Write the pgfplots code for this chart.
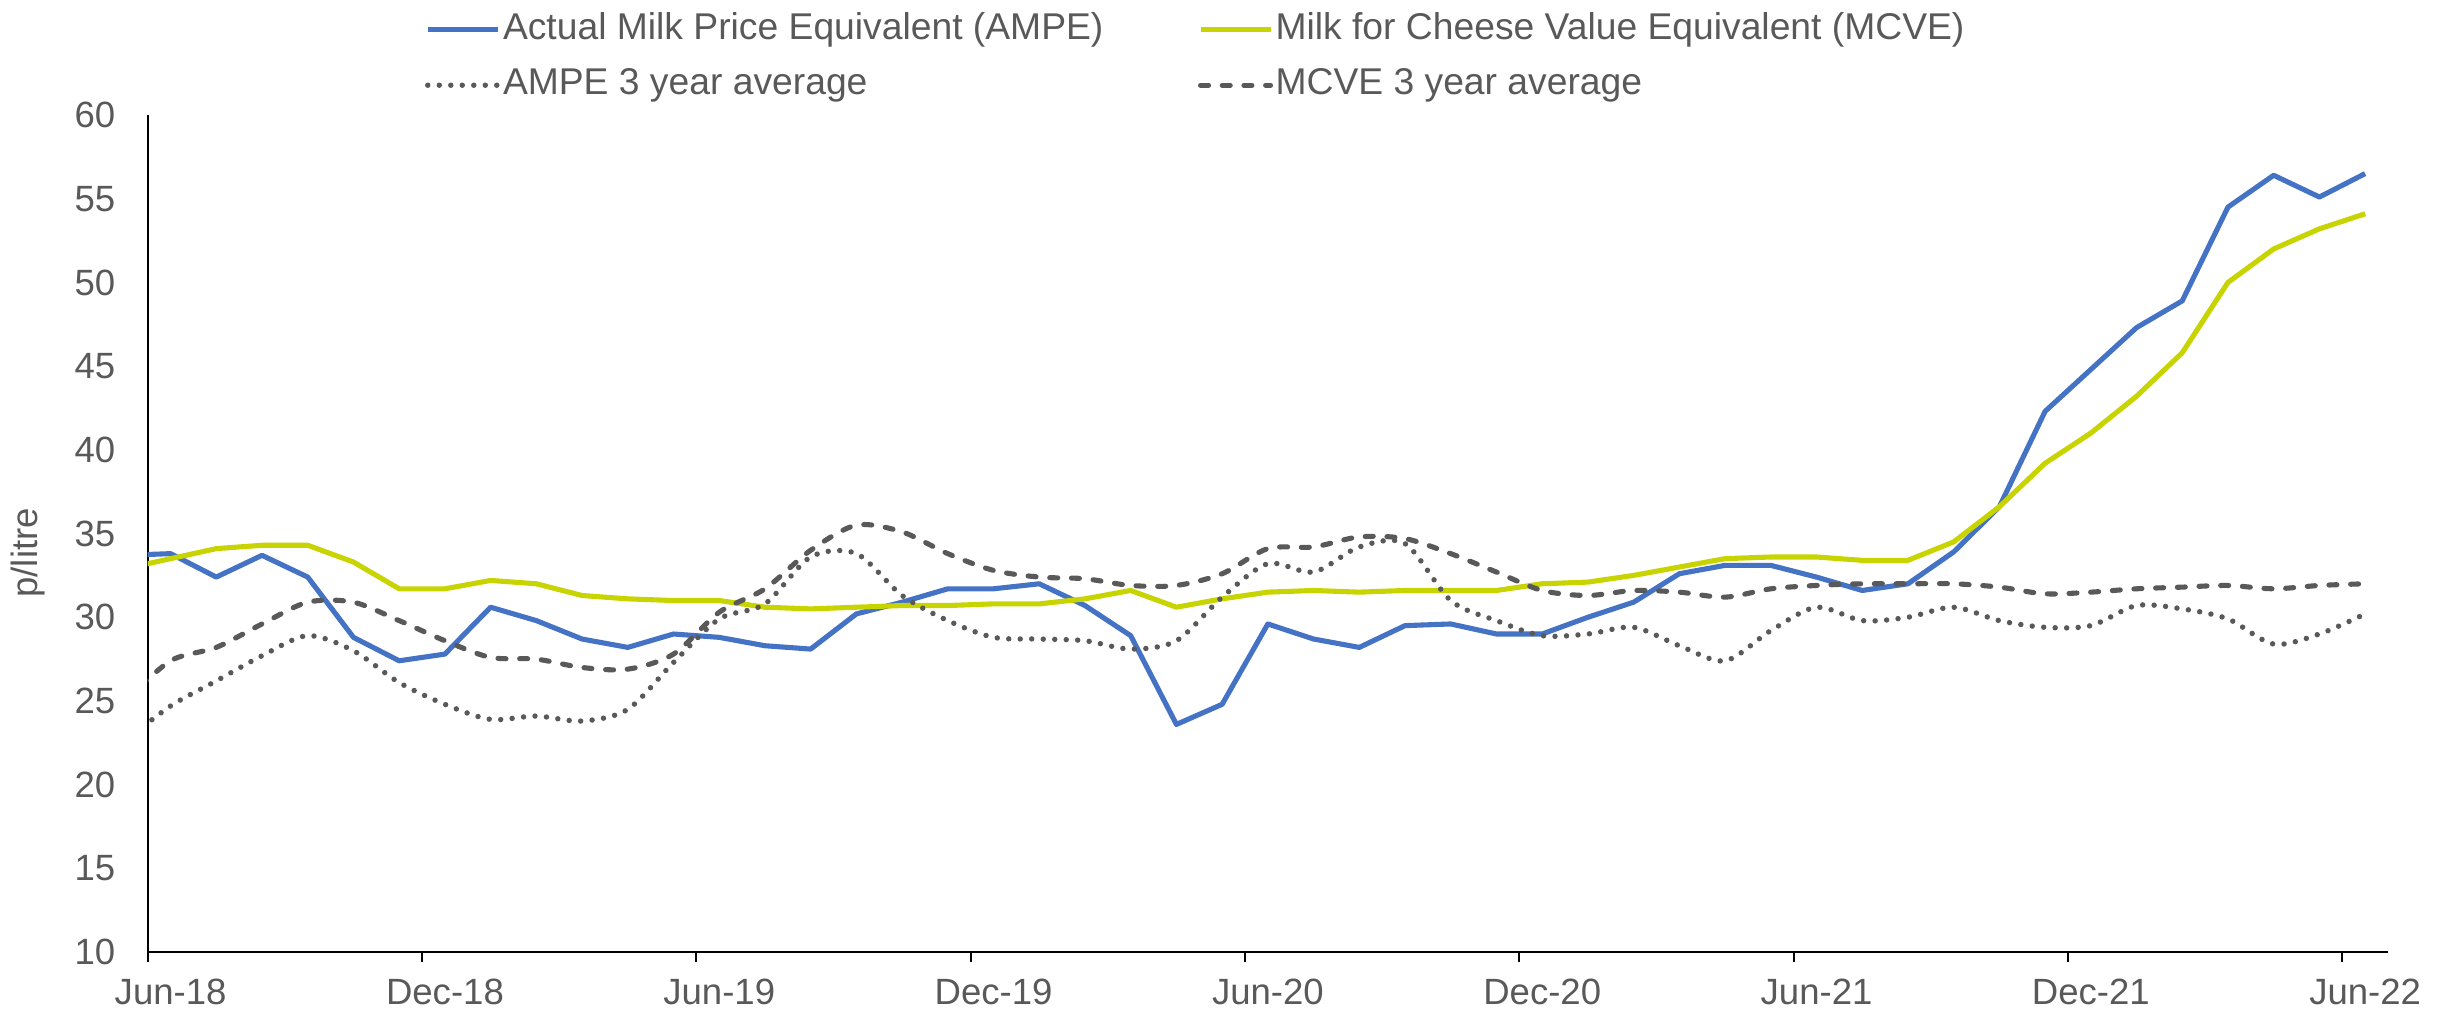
\documentclass[border=0pt]{standalone}
\usepackage{fontspec}
\setmainfont{Liberation Sans}
\usepackage{pgfplots}
\pgfplotsset{compat=1.18}
\definecolor{ampe}{RGB}{68,114,196}
\definecolor{mcve}{RGB}{200,212,0}
\definecolor{avg}{RGB}{89,89,89}
\definecolor{txt}{RGB}{89,89,89}

\begin{document}
\begin{tikzpicture}
\begin{axis}[
    scale only axis,
    width=22.40cm, height=8.37cm,
    xmin=0, xmax=49, ymin=10, ymax=60,
    axis lines*=left,
    axis line style={black, line width=0.6pt},
    xtick={0,6,...,48},
    xticklabels={Jun-18,Dec-18,Jun-19,Dec-19,Jun-20,Dec-20,Jun-21,Dec-21,Jun-22},
    ytick={10,15,...,60},
    tick align=outside,
    major tick length=0.1cm,
    xtick style={black, line width=0.6pt},
    ytick style={draw=none},
    /pgf/number format/assume math mode=true,
    ticklabel style={font=\fontsize{10.4}{12.5}\selectfont, text=txt},
    yticklabel style={xshift=-0.1cm},
    xticklabel style={xshift=0.229cm, yshift=-0.045cm},
    ylabel={p/litre},
    every axis y label/.style={at={(axis description cs:-0.0534,0.477)},
        rotate=90, anchor=center, font=\fontsize{10.4}{12.5}\selectfont, text=txt},
    legend columns=2,
    legend cell align=left,
    legend style={draw=none, fill=none,
        at={(axis description cs:0.1238,1.124)}, anchor=north west,
        inner sep=0pt, outer sep=0pt,
        font=\fontsize{10.6}{12.7}\selectfont, text=txt,
        /tikz/every even column/.append style={column sep=0.92cm},
        row sep=0.18cm,
        nodes={inner sep=0.025cm, text height=0.72em, text depth=0.2em}},
    legend image code/.code={\draw[#1] (0cm,0cm) -- (0.70cm,0cm);},
]
\addplot[ampe, line width=1.45pt, line join=round] coordinates {
(-0.5,33.7)(0.5,33.8)(1.5,32.4)(2.5,33.7)(3.5,32.4)(4.5,28.8)(5.5,27.4)(6.5,27.8)
(7.5,30.6)(8.5,29.8)(9.5,28.7)(10.5,28.2)(11.5,29.0)(12.5,28.8)(13.5,28.3)(14.5,28.1)
(15.5,30.2)(16.5,30.9)(17.5,31.7)(18.5,31.7)(19.5,32.0)(20.5,30.7)(21.5,28.9)(22.5,23.6)
(23.5,24.8)(24.5,29.6)(25.5,28.7)(26.5,28.2)(27.5,29.5)(28.5,29.6)(29.5,29.0)(30.5,29.0)
(31.5,30.0)(32.5,30.9)(33.5,32.6)(34.5,33.1)(35.5,33.1)(36.5,32.4)(37.5,31.6)(38.5,32.0)
(39.5,33.9)(40.5,36.6)(41.5,42.3)(42.5,44.8)(43.5,47.3)(44.5,48.9)(45.5,54.5)(46.5,56.4)
(47.5,55.1)(48.5,56.5)
};
\addplot[mcve, line width=1.45pt, line join=round] coordinates {
(-0.5,32.9)(0.5,33.5)(1.5,34.1)(2.5,34.3)(3.5,34.3)(4.5,33.3)(5.5,31.7)(6.5,31.7)
(7.5,32.2)(8.5,32.0)(9.5,31.3)(10.5,31.1)(11.5,31.0)(12.5,31.0)(13.5,30.6)(14.5,30.5)
(15.5,30.6)(16.5,30.7)(17.5,30.7)(18.5,30.8)(19.5,30.8)(20.5,31.1)(21.5,31.6)(22.5,30.6)
(23.5,31.1)(24.5,31.5)(25.5,31.6)(26.5,31.5)(27.5,31.6)(28.5,31.6)(29.5,31.6)(30.5,32.0)
(31.5,32.1)(32.5,32.5)(33.5,33.0)(34.5,33.5)(35.5,33.6)(36.5,33.6)(37.5,33.4)(38.5,33.4)
(39.5,34.5)(40.5,36.6)(41.5,39.2)(42.5,41.0)(43.5,43.2)(44.5,45.8)(45.5,50.0)(46.5,52.0)
(47.5,53.2)(48.5,54.1)
};
\addplot[avg, line width=1.55pt, line cap=round, dash pattern=on 0pt off 0.115cm, smooth, tension=0.5] coordinates {
(-0.5,22.6)(0.5,24.7)(1.5,26.2)(2.5,27.7)(3.5,28.9)(4.5,28.0)(5.5,26.1)(6.5,24.8)
(7.5,23.9)(8.5,24.1)(9.5,23.8)(10.5,24.5)(11.5,27.3)(12.5,29.9)(13.5,30.8)(14.5,33.6)
(15.5,33.8)(16.5,31.3)(17.5,29.8)(18.5,28.8)(19.5,28.7)(20.5,28.6)(21.5,28.1)(22.5,28.6)
(23.5,31.2)(24.5,33.2)(25.5,32.7)(26.5,34.2)(27.5,34.4)(28.5,31.0)(29.5,29.8)(30.5,28.9)
(31.5,29.0)(32.5,29.4)(33.5,28.3)(34.5,27.4)(35.5,29.2)(36.5,30.6)(37.5,29.8)(38.5,30.0)
(39.5,30.6)(40.5,29.8)(41.5,29.4)(42.5,29.5)(43.5,30.7)(44.5,30.5)(45.5,29.9)(46.5,28.4)
(47.5,29.0)(48.5,30.2)
};
\addplot[avg, line width=1.45pt, line cap=round, dash pattern=on 0.08cm off 0.137cm, smooth, tension=0.5] coordinates {
(-0.5,25.0)(0.5,27.4)(1.5,28.2)(2.5,29.6)(3.5,30.9)(4.5,30.9)(5.5,29.8)(6.5,28.6)
(7.5,27.6)(8.5,27.5)(9.5,27.0)(10.5,26.9)(11.5,27.8)(12.5,30.3)(13.5,31.7)(14.5,34.0)
(15.5,35.5)(16.5,35.1)(17.5,33.8)(18.5,32.8)(19.5,32.4)(20.5,32.3)(21.5,31.9)(22.5,31.9)
(23.5,32.6)(24.5,34.1)(25.5,34.2)(26.5,34.8)(27.5,34.7)(28.5,33.8)(29.5,32.7)(30.5,31.6)
(31.5,31.3)(32.5,31.6)(33.5,31.5)(34.5,31.2)(35.5,31.7)(36.5,31.9)(37.5,32.0)(38.5,32.0)
(39.5,32.0)(40.5,31.8)(41.5,31.4)(42.5,31.5)(43.5,31.7)(44.5,31.8)(45.5,31.9)(46.5,31.7)
(47.5,31.9)(48.5,32.0)
};
\legend{Actual Milk Price Equivalent (AMPE),Milk for Cheese Value Equivalent (MCVE),AMPE 3 year average,MCVE 3 year average}
\end{axis}
\pgfresetboundingbox
\path (-1.477cm,-0.68cm) rectangle (22.97cm,9.52cm);
\end{tikzpicture}
\end{document}
